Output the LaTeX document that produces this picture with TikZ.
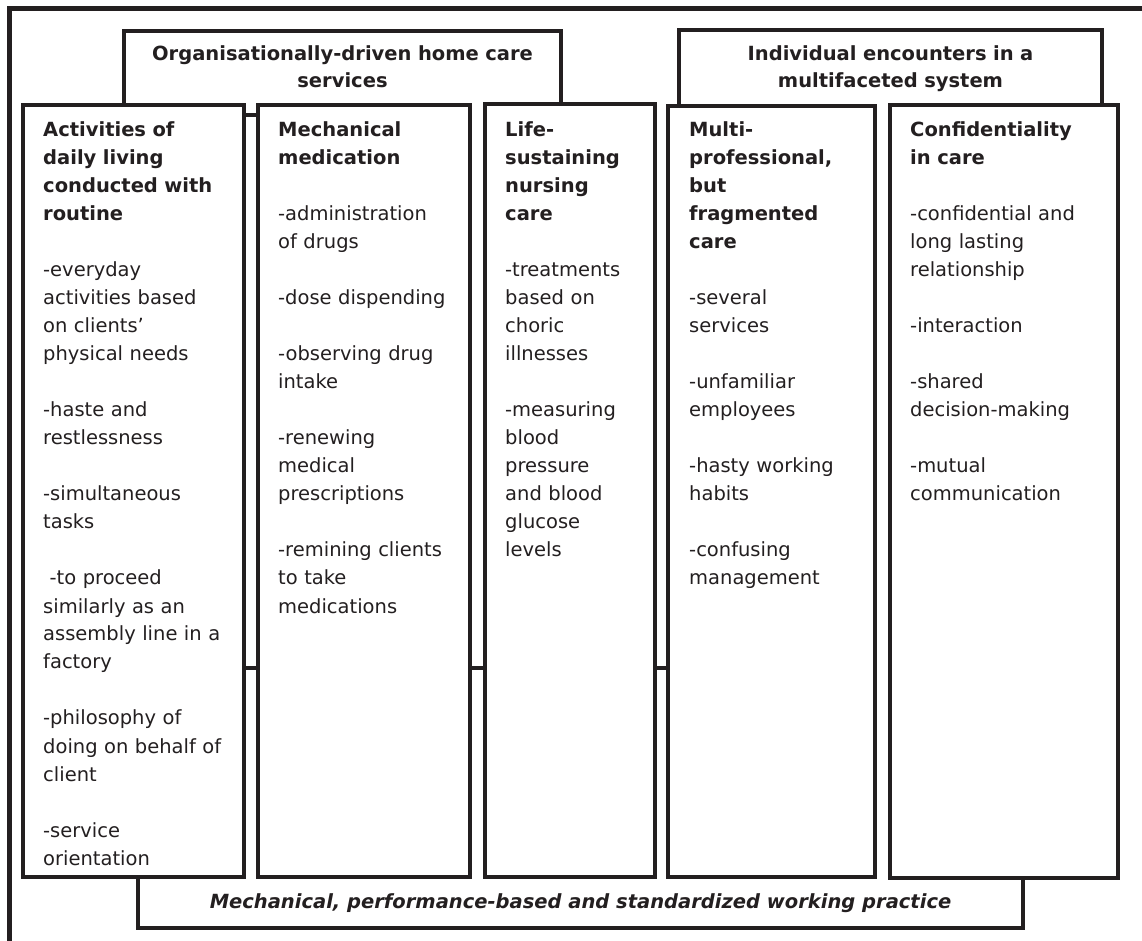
\documentclass[tikz,border=0pt]{standalone}
\usepackage{fontspec}
\setmainfont{DejaVu Sans}[ItalicFont=DejaVu Sans Oblique, BoldItalicFont=DejaVu Sans Bold Oblique]
\definecolor{ink}{RGB}{35,31,32}
\begin{document}
\begin{tikzpicture}[x=1pt,y=-1pt,
  rule/.style={draw=ink, line width=4.5pt},
  colbox/.style={draw=ink, line width=4.5pt, fill=white, inner sep=0pt, outer sep=0pt, anchor=north west},
  coltext/.style={anchor=base west, inner sep=0pt, text width=215pt, align=left, text=ink,
    font=\fontsize{19.5}{28}\selectfont},
  headtext/.style={anchor=base, inner sep=0pt, text width=440pt, align=center, text=ink,
    font=\fontsize{19.5}{27}\selectfont\bfseries},
]
\useasboundingbox (0,0) rectangle (1142,941);

% outer frame (open towards right and bottom)
\draw[rule, line width=5pt] (1142,8.5) -- (9.5,8.5) -- (9.5,941);

% header boxes
\draw[rule] (124,105) -- (124,31) -- (561,31) -- (561,105);
\draw[rule] (679,105) -- (679,30) -- (1102,30) -- (1102,105);
\node[headtext] (h1) at (342.5,61) {Organisationally-driven home care\\services};
\node[headtext] (h2) at (890.5,61) {Individual encounters in a\\multifaceted system};

% footer box
\draw[rule] (138,877) -- (138,928) -- (1023,928) -- (1023,877);
\node[anchor=base, inner sep=0pt, text=ink, font=\fontsize{19.5}{27}\selectfont\bfseries\itshape]
  (foot) at (580.5,908) {Mechanical, performance-based and standardized working practice};

% columns
\node[colbox, minimum width=221pt, minimum height=772pt] (c1) at (23,105) {};
\node[colbox, minimum width=212pt, minimum height=772pt] (c2) at (258,105) {};
\node[colbox, minimum width=170pt, minimum height=773pt] (c3) at (485,104) {};
\node[colbox, minimum width=207pt, minimum height=771pt] (c4) at (668,106) {};
\node[colbox, minimum width=228pt, minimum height=773pt] (c5) at (890,105) {};

% links between neighbouring columns
\coordinate (topbar) at (0,115);
\coordinate (lowbar) at (0,668);
\draw[rule] (c1.east |- topbar) -- (c2.west |- topbar);
\draw[rule] (c1.east |- lowbar) -- (c2.west |- lowbar);
\draw[rule] (c2.east |- lowbar) -- (c3.west |- lowbar);
\draw[rule] (c3.east |- lowbar) -- (c4.west |- lowbar);

% column contents
\node[coltext] (t1) at (43,137) {\textbf{Activities of}\\\textbf{daily living}\\\textbf{conducted with}\\\textbf{routine}\\[28pt]
-everyday\\activities based\\on clients’\\physical needs\\[28pt]
-haste and\\restlessness\\[28pt]
-simultaneous\\tasks\\[28pt]
\ -to proceed\\similarly as an\\assembly line in a\\factory\\[28pt]
-philosophy of\\doing on behalf of\\client\\[28pt]
-service\\orientation};

\node[coltext] (t2) at (278,137) {\textbf{Mechanical}\\\textbf{medication}\\[28pt]
-administration\\of drugs\\[28pt]
-dose dispending\\[28pt]
-observing drug\\intake\\[28pt]
-renewing\\medical\\prescriptions\\[28pt]
-remining clients\\to take\\medications};

\node[coltext] (t3) at (505,137) {\textbf{Life-}\\\textbf{sustaining}\\\textbf{nursing}\\\textbf{care}\\[28pt]
-treatments\\based on\\choric\\illnesses\\[28pt]
-measuring\\blood\\pressure\\and blood\\glucose\\levels};

\node[coltext] (t4) at (689,137) {\textbf{Multi-}\\\textbf{professional,}\\\textbf{but}\\\textbf{fragmented}\\\textbf{care}\\[28pt]
-several\\services\\[28pt]
-unfamiliar\\employees\\[28pt]
-hasty working\\habits\\[28pt]
-confusing\\management};

\node[coltext] (t5) at (910,137) {\textbf{Confidentiality}\\\textbf{in care}\\[28pt]
-confidential and\\long lasting\\relationship\\[28pt]
-interaction\\[28pt]
-shared\\decision-making\\[28pt]
-mutual\\communication};
\end{tikzpicture}
\end{document}
